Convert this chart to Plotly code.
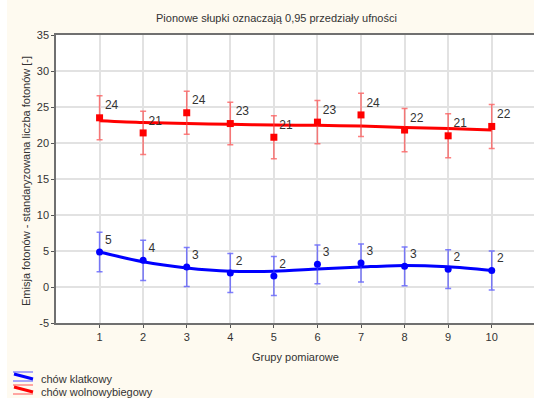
import plotly.graph_objects as go

# ---------------- data ----------------
groups = [1, 2, 3, 4, 5, 6, 7, 8, 9, 10]

red_mean = [23.5, 21.4, 24.2, 22.7, 20.8, 22.9, 23.9, 21.8, 21.0, 22.3]
red_ci = [3.05, 3.0, 3.0, 2.95, 3.0, 3.0, 3.0, 3.0, 3.05, 3.05]
red_fit = [23.1, 22.85, 22.7, 22.6, 22.5, 22.45, 22.35, 22.15, 22.0, 21.8]
red_labels = ["24", "21", "24", "23", "21", "23", "24", "22", "21", "22"]

blue_mean = [4.86, 3.7, 2.78, 1.95, 1.53, 3.15, 3.33, 2.87, 2.48, 2.3]
blue_ci = [2.75, 2.8, 2.7, 2.7, 2.7, 2.7, 2.65, 2.7, 2.7, 2.7]
blue_fit = [4.86, 3.5, 2.65, 2.2, 2.2, 2.5, 2.78, 3.0, 2.8, 2.3]
blue_labels = ["5", "4", "3", "2", "2", "3", "3", "3", "2", "2"]

series_names = ["chów klatkowy", "chów wolnowybiegowy"]
title_text = "Pionowe słupki oznaczają 0,95 przedziały ufności"
x_title = "Grupy pomiarowe"
y_title = "Emisja fotonów - standaryzowana liczba fotonów [-]"
y_ticks = [-5, 0, 5, 10, 15, 20, 25, 30, 35]
y_ticktext = ["-5", "0", "5", "10", "15", "20", "25", "30", "35"]

# ---------------- layout geometry ----------------
W, H = 534, 398
ML, MR, MT, MB = 56, 0, 35, 75
PW, PH = W - ML - MR, H - MT - MB


def px(xp):
    return (xp - ML) / PW


def py(yp):
    return (H - MB - yp) / PH


FONT = "Liberation Sans, Arial, sans-serif"
TXT = "#333333"
BG = "#FEFAF0"

fig = go.Figure()

for mean, ci, fit, labels, color, ecolor, symbol in [
    (blue_mean, blue_ci, blue_fit, blue_labels, "#0000FF", "rgba(60,60,255,0.65)", "circle"),
    (red_mean, red_ci, red_fit, red_labels, "#FF0000", "rgba(255,60,60,0.65)", "square"),
]:
    fig.add_trace(go.Scatter(
        x=groups, y=fit, mode="lines",
        line=dict(color=color, width=3, shape="spline", smoothing=0.8),
        showlegend=False, hoverinfo="skip"))
    fig.add_trace(go.Scatter(
        x=groups, y=mean, mode="markers+text",
        marker=dict(color=color, size=7, symbol=symbol),
        error_y=dict(type="data", array=ci, visible=True, color=ecolor,
                     thickness=1.5, width=3),
        text=labels, textposition="top right",
        textfont=dict(family=FONT, size=12, color=TXT),
        showlegend=False, cliponaxis=False))

shapes = [
    # white strip on the left edge
    dict(type="rect", xref="paper", yref="paper", x0=px(0), x1=px(7),
         y0=py(H), y1=py(0), fillcolor="white", line=dict(width=0), layer="below"),
]

# legend icons (drawn manually)
for i, (c, cl) in enumerate([("#0000FF", "rgba(90,90,255,0.7)"), ("#FF0000", "rgba(255,90,90,0.7)")]):
    y0 = 372 + i * 13
    shapes.append(dict(type="line", xref="paper", yref="paper",
                       x0=px(13), x1=px(33), y0=py(y0), y1=py(y0),
                       line=dict(color=cl, width=1.5)))
    shapes.append(dict(type="line", xref="paper", yref="paper",
                       x0=px(13), x1=px(33), y0=py(y0 + 9), y1=py(y0 + 9),
                       line=dict(color=cl, width=1.5)))
    shapes.append(dict(type="line", xref="paper", yref="paper",
                       x0=px(14), x1=px(33), y0=py(y0 + 2), y1=py(y0 + 7),
                       line=dict(color=c, width=3)))

annotations = [
    dict(text=title_text, xref="paper", yref="paper", x=px(276), y=py(17.5),
         showarrow=False, xanchor="center", yanchor="middle",
         font=dict(family=FONT, size=11, color=TXT)),
    dict(text=x_title, xref="paper", yref="paper", x=px(295), y=py(357),
         showarrow=False, xanchor="center", yanchor="middle",
         font=dict(family=FONT, size=11, color=TXT)),
    dict(text=y_title, xref="paper", yref="paper", x=px(26), y=py(181),
         showarrow=False, xanchor="center", yanchor="middle", textangle=-90,
         font=dict(family=FONT, size=11, color=TXT)),
]
for i, name in enumerate(series_names):
    annotations.append(dict(text=name, xref="paper", yref="paper",
                            x=px(39), y=py(379 + i * 13), showarrow=False,
                            xanchor="left", yanchor="middle",
                            font=dict(family=FONT, size=11, color=TXT)))

fig.update_layout(
    width=W, height=H,
    margin=dict(l=ML, r=MR, t=MT, b=MB, pad=0),
    paper_bgcolor=BG, plot_bgcolor="white",
    showlegend=False,
    shapes=shapes, annotations=annotations,
    font=dict(family=FONT, size=11, color=TXT),
)
fig.update_xaxes(
    range=[0, 10.97], tickmode="array", tickvals=groups,
    showgrid=True, gridcolor="#E2E2E2", gridwidth=1.5,
    showline=True, linecolor="#707070", linewidth=1.5, mirror=True,
    ticks="outside", ticklen=3, tickcolor="#555555",
    tickfont=dict(family=FONT, size=11, color=TXT), zeroline=False)
fig.update_yaxes(
    range=[-5, 35], tickmode="array", tickvals=y_ticks, ticktext=y_ticktext,
    showgrid=True, gridcolor="#E2E2E2", gridwidth=1.5,
    showline=True, linecolor="#707070", linewidth=1.5,
    ticks="outside", ticklen=3, tickcolor="#555555",
    tickfont=dict(family=FONT, size=11, color=TXT), zeroline=False)

fig.write_html(
    "out.html",
    config={"displayModeBar": False},
    post_script="document.body.style.margin='0';document.body.style.overflow='hidden';",
)
